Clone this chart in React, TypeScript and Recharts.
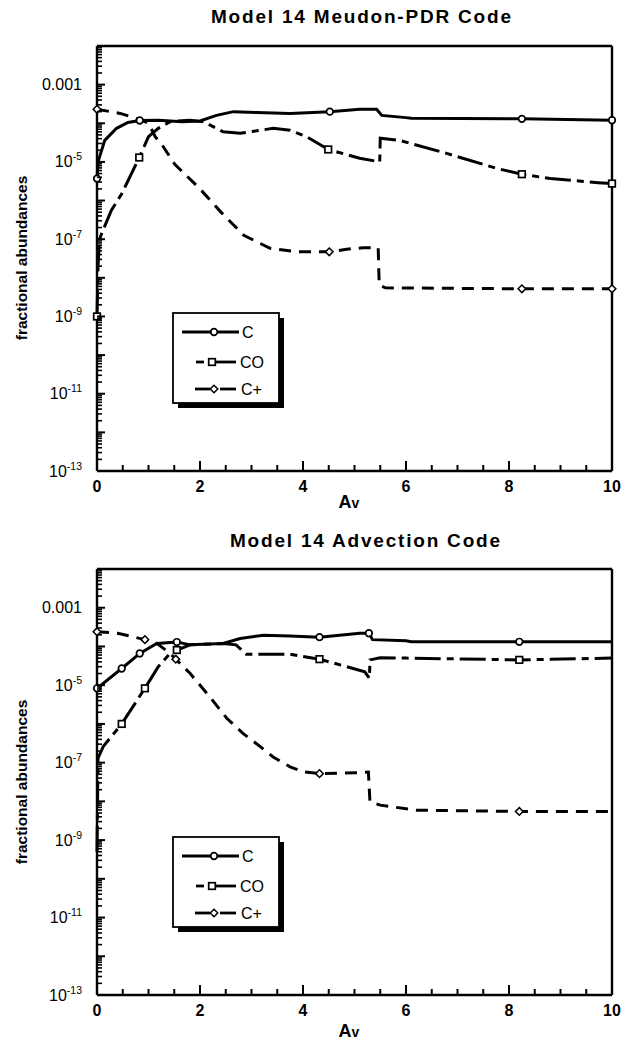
import React from 'react';
import { LineChart, Line, XAxis, YAxis, Legend } from 'recharts';

// ---------- DATA ----------
// Model 14 Meudon-PDR Code  [Av, fractional abundance]
const meudonC: [number, number][] = [
  [0, 3.7e-6], [0.02, 1.0e-5], [0.15, 3.6e-5], [0.38, 7.4e-5], [0.6, 1.05e-4], [0.83, 1.18e-4],
  [1.2, 1.2e-4], [1.65, 1.1e-4], [2.0, 1.15e-4], [2.32, 1.6e-4], [2.65, 2.0e-4], [3.1, 1.9e-4],
  [3.75, 1.8e-4], [4.52, 2.0e-4], [5.1, 2.3e-4], [5.43, 2.3e-4], [5.53, 1.6e-4], [6.0, 1.4e-4],
  [6.1, 1.35e-4], [8.25, 1.3e-4], [10, 1.2e-4],
];
const meudonCO: [number, number][] = [
  [0, 1.0e-9], [0.02, 2e-8], [0.05, 1e-7], [0.09, 1.4e-7], [0.28, 5.6e-7], [0.48, 1.5e-6],
  [0.82, 1.3e-5], [1.0, 4.5e-5], [1.19, 7.4e-5], [1.42, 1.1e-4], [1.8, 1.2e-4], [2.07, 1.1e-4],
  [2.45, 6e-5], [2.78, 5.5e-5], [3.42, 7.4e-5], [3.75, 6.6e-5], [4.07, 4.5e-5], [4.49, 2.1e-5],
  [5.1, 1.25e-5], [5.49, 1.0e-5], [5.5, 4.1e-5], [5.88, 3.6e-5], [6.79, 1.66e-5], [7.76, 6.8e-6],
  [8.25, 4.8e-6], [8.8, 3.7e-6], [9.73, 2.9e-6], [10, 2.75e-6],
];
const meudonCplus: [number, number][] = [
  [0, 2.3e-4], [0.45, 1.8e-4], [0.83, 1.25e-4], [1.0, 1.0e-4], [1.13, 4.5e-5], [1.26, 2.8e-5],
  [1.51, 8.7e-6], [2.0, 2.0e-6], [2.42, 4.8e-7], [2.85, 1.26e-7], [3.36, 5.8e-8], [3.88, 4.7e-8],
  [4.51, 4.7e-8], [4.85, 5.5e-8], [5.17, 6.0e-8], [5.46, 6.0e-8], [5.48, 6.5e-9], [5.6, 5.5e-9],
  [8.25, 5.2e-9], [10, 5.2e-9],
];
const meudonCMarks = [0, 0.83, 4.52, 8.25, 10];
const meudonCOMarks = [0, 0.82, 4.49, 8.25, 10];
const meudonCplusMarks = [0, 4.51, 8.25, 10];

// Model 14 Advection Code  [Av, fractional abundance]
const advC: [number, number][] = [
  [0, 8.3e-6], [0.48, 2.7e-5], [0.83, 6.6e-5], [1.16, 1.2e-4], [1.55, 1.3e-4], [1.81, 1.1e-4],
  [2.45, 1.2e-4], [2.78, 1.6e-4], [3.23, 1.95e-4], [3.75, 1.86e-4], [4.32, 1.74e-4], [5.1, 2.2e-4],
  [5.28, 2.2e-4], [5.35, 1.5e-4], [6.0, 1.4e-4], [6.1, 1.32e-4], [8.2, 1.32e-4], [10, 1.32e-4],
];
const advCO: [number, number][] = [
  [0, 5e-10], [0.02, 1.3e-7], [0.12, 2.6e-7], [0.48, 1.0e-6], [0.93, 8.3e-6], [1.19, 3.0e-5],
  [1.42, 6.6e-5], [1.55, 8.1e-5], [1.81, 1.1e-4], [2.45, 1.2e-4], [2.7, 1.1e-4], [2.9, 6.3e-5],
  [3.75, 6.3e-5], [4.32, 4.7e-5], [4.85, 3.0e-5], [5.2, 2.2e-5], [5.29, 1.5e-5], [5.3, 4.5e-5],
  [5.5, 5.1e-5], [6.0, 5.0e-5], [8.2, 4.5e-5], [10, 5.0e-5],
];
const advCplus: [number, number][] = [
  [0, 2.4e-4], [0.4, 2.2e-4], [0.93, 1.5e-4], [1.16, 1.2e-4], [1.42, 6.6e-5], [1.53, 4.7e-5],
  [1.81, 2.0e-5], [2.19, 5.0e-6], [2.52, 1.4e-6], [2.84, 5.6e-7], [3.17, 2.6e-7], [3.42, 1.4e-7],
  [3.75, 7.8e-8], [4.01, 5.8e-8], [4.32, 5.2e-8], [5.1, 5.5e-8], [5.27, 5.7e-8], [5.3, 9.8e-9],
  [5.5, 8e-9], [6.2, 5.9e-9], [8.2, 5.5e-9], [10, 5.5e-9],
];
const advCMarks = [0, 0.48, 0.83, 1.55, 4.32, 5.28, 8.2];
const advCOMarks = [0.48, 0.93, 1.55, 4.32, 8.2];
const advCplusMarks = [0, 0.93, 1.53, 4.32, 8.2];

const seriesNames = ['C', 'CO', 'C+'];
const panelTitles = ['Model 14 Meudon-PDR Code', 'Model 14 Advection Code'];
const yAxisTitle = 'fractional abundances';

// tick values / labels
const xTicks = [0, 0.5, 1, 1.5, 2, 2.5, 3, 3.5, 4, 4.5, 5, 5.5, 6, 6.5, 7, 7.5, 8, 8.5, 9, 9.5, 10];
const xTickLabels = ['0', '2', '4', '6', '8', '10'];
const yDecadeTicks = [1e-13, 1e-12, 1e-11, 1e-10, 1e-9, 1e-8, 1e-7, 1e-6, 1e-5, 1e-4, 1e-3, 1e-2];
const yMinorMantissas = [2, 3, 4, 5, 6, 7, 8, 9];
const yLabelled: { exp: number; text: string; sup: string }[] = [
  { exp: -13, text: '10', sup: '-13' },
  { exp: -11, text: '10', sup: '-11' },
  { exp: -9, text: '10', sup: '-9' },
  { exp: -7, text: '10', sup: '-7' },
  { exp: -5, text: '10', sup: '-5' },
  { exp: -3, text: '0.001', sup: '' },
];
const Y_DOMAIN: [number, number] = [1e-13, 1e-2];

// ---------- helpers ----------
const FONT = '"Liberation Sans", Arial, Helvetica, sans-serif';
const TITLE_FONT = '"Liberation Sans Narrow", "Liberation Sans", Arial, sans-serif';
const toPts = (a: [number, number][]) => a.map(([x, y]) => ({ x, y }));
const NDEC = Math.log10(Y_DOMAIN[1]) - Math.log10(Y_DOMAIN[0]);

// minor log ticks drawn relative to each decade tick (decade height = plot height / number of decades)
const minorOffsets = (decadePx: number, v: number) =>
  v >= Y_DOMAIN[1] || !decadePx ? [] : yMinorMantissas.map((m) => -Math.log10(m) * decadePx);

const LeftYTick = (props: any) => {
  const { x, y, payload, decadePx } = props;
  const v = payload.value;
  const lab = yLabelled.find((t) => t.exp === Math.round(Math.log10(v)));
  return (
    <g>
      <line x1={x} y1={y} x2={x + 8} y2={y} stroke="#000" strokeWidth={2} />
      {minorOffsets(decadePx, v).map((d, i) => (
        <line key={i} x1={x} y1={y + d} x2={x + 5} y2={y + d} stroke="#000" strokeWidth={1.6} />
      ))}
      {lab && (
        <text x={x - 15} y={y + 5.5} textAnchor="end" fontFamily={FONT} fontSize={16} fill="#000">
          <tspan>{lab.text}</tspan>
          {lab.sup && <tspan dy={-7} fontSize={10.5}>{lab.sup}</tspan>}
        </text>
      )}
    </g>
  );
};

const RightYTick = (props: any) => {
  const { x, y, payload, decadePx } = props;
  return (
    <g>
      <line x1={x} y1={y} x2={x - 8} y2={y} stroke="#000" strokeWidth={2} />
      {minorOffsets(decadePx, payload.value).map((d, i) => (
        <line key={i} x1={x} y1={y + d} x2={x - 5} y2={y + d} stroke="#000" strokeWidth={1.6} />
      ))}
    </g>
  );
};

const BottomXTick = (props: any) => {
  const { x, y, payload } = props;
  const v = payload.value;
  const major = Math.abs(v / 2 - Math.round(v / 2)) < 1e-6;
  const len = major ? 10 : 6;
  const label = major ? xTickLabels[Math.round(v / 2)] : null;
  return (
    <g>
      <line x1={x} y1={y} x2={x} y2={y - len} stroke="#000" strokeWidth={2} />
      {label && (
        <text x={x} y={y + 21} textAnchor="middle" fontFamily={FONT} fontWeight="bold" fontSize={16} fill="#000">
          {label}
        </text>
      )}
    </g>
  );
};

const TopXTick = (props: any) => {
  const { x, y, payload } = props;
  const v = payload.value;
  const major = Math.abs(v / 2 - Math.round(v / 2)) < 1e-6;
  const len = major ? 10 : 6;
  return <line x1={x} y1={y} x2={x} y2={y + len} stroke="#000" strokeWidth={2} />;
};

type Shape = 'circle' | 'square' | 'diamond';
const drawMarker = (shape: Shape, cx: number, cy: number, key?: any) => {
  if (shape === 'circle') return <circle key={key} cx={cx} cy={cy} r={3.3} fill="#fff" stroke="#000" strokeWidth={1.7} />;
  if (shape === 'square') return <rect key={key} x={cx - 3.3} y={cy - 3.3} width={6.6} height={6.6} fill="#fff" stroke="#000" strokeWidth={1.7} />;
  return (
    <polygon key={key} points={`${cx},${cy - 3.8} ${cx + 3.8},${cy} ${cx},${cy + 3.8} ${cx - 3.8},${cy}`} fill="#fff" stroke="#000" strokeWidth={1.5} />
  );
};

const makeDot = (marks: number[], shape: Shape) => (p: any) => {
  const key = `dot-${p.index}`;
  if (p.payload && marks.some((m) => Math.abs(m - p.payload.x) < 1e-9) && p.cx != null && p.cy != null) {
    return <g key={key}>{drawMarker(shape, p.cx, p.cy)}</g>;
  }
  return <g key={key} />;
};

const DASH_CO = '26 6 7 6';
const DASH_CPLUS = '12 8';

const LegendBox = () => (
  <svg width={120} height={102} style={{ overflow: 'visible', display: 'block' }}>
    <rect x={6} y={6} width={106} height={90} fill="#000" />
    <rect x={1} y={1} width={106} height={90} fill="#fff" stroke="#000" strokeWidth={1.8} />
    <line x1={10} y1={20} x2={67} y2={20} stroke="#000" strokeWidth={2.8} />
    {drawMarker('circle', 42, 20)}
    <text x={70} y={25.5} fontFamily={FONT} fontSize={16} fill="#000">{seriesNames[0]}</text>
    <line x1={24} y1={50} x2={32} y2={50} stroke="#000" strokeWidth={2.8} />
    <line x1={44} y1={50} x2={64} y2={50} stroke="#000" strokeWidth={2.8} />
    {drawMarker('square', 40, 50)}
    <text x={68} y={55.5} fontFamily={FONT} fontSize={16} fill="#000">{seriesNames[1]}</text>
    <line x1={23} y1={77} x2={38} y2={77} stroke="#000" strokeWidth={2.8} />
    <line x1={48} y1={77} x2={64} y2={77} stroke="#000" strokeWidth={2.8} />
    {drawMarker('diamond', 42, 77)}
    <text x={69} y={82.5} fontFamily={FONT} fontSize={16} fill="#000">{seriesNames[2]}</text>
  </svg>
);

type PanelProps = {
  height: number;
  margin: { top: number; right: number; bottom: number; left: number };
  c: [number, number][];
  co: [number, number][];
  cp: [number, number][];
  cMarks: number[];
  coMarks: number[];
  cpMarks: number[];
  legendTop: number;
};

const axisLineStyle = { stroke: '#000', strokeWidth: 2.4 };

const Panel = (p: PanelProps) => {
  const plotH = p.height - p.margin.top - p.margin.bottom - 2;
  const decadePx = plotH / NDEC;
  return (
    <LineChart width={623} height={p.height} margin={p.margin}>
      <XAxis
        xAxisId="b" type="number" dataKey="x" domain={[0, 10]} ticks={xTicks} interval={0}
        height={1} tickSize={0} tickMargin={0} tick={<BottomXTick />} axisLine={axisLineStyle} tickLine={false}
      />
      <XAxis
        xAxisId="t" orientation="top" type="number" dataKey="x" domain={[0, 10]} ticks={xTicks} interval={0}
        height={1} tickSize={0} tickMargin={0} tick={<TopXTick />} axisLine={axisLineStyle} tickLine={false}
      />
      <YAxis
        yAxisId="l" type="number" scale="log" domain={Y_DOMAIN} ticks={yDecadeTicks} interval={0}
        width={1} tickSize={0} tickMargin={0} tick={<LeftYTick decadePx={decadePx} />} axisLine={axisLineStyle} tickLine={false}
      />
      <YAxis
        yAxisId="r" orientation="right" type="number" scale="log" domain={Y_DOMAIN} ticks={yDecadeTicks} interval={0}
        width={1} tickSize={0} tickMargin={0} tick={<RightYTick decadePx={decadePx} />} axisLine={axisLineStyle} tickLine={false}
      />
      <Legend
        layout="horizontal"
        verticalAlign="middle"
        align="center"
        content={() => <LegendBox />}
        wrapperStyle={{ position: 'absolute', left: 172, top: p.legendTop, width: 120, height: 102 }}
      />
      <Line
        xAxisId="b" yAxisId="l" name={seriesNames[0]} data={toPts(p.c)} dataKey="y" type="linear"
        stroke="#000" strokeWidth={3} dot={makeDot(p.cMarks, 'circle')} activeDot={false}
        isAnimationActive={false}
      />
      <Line
        xAxisId="b" yAxisId="l" name={seriesNames[1]} data={toPts(p.co)} dataKey="y" type="linear"
        stroke="#000" strokeWidth={3} strokeDasharray={DASH_CO} dot={makeDot(p.coMarks, 'square')}
        activeDot={false} isAnimationActive={false}
      />
      <Line
        xAxisId="b" yAxisId="l" name={seriesNames[2]} data={toPts(p.cp)} dataKey="y" type="linear"
        stroke="#000" strokeWidth={3} strokeDasharray={DASH_CPLUS} dot={makeDot(p.cpMarks, 'diamond')}
        activeDot={false} isAnimationActive={false}
      />
    </LineChart>
  );
};

export default function App() {
  return (
    <div style={{ position: 'absolute', left: 0, top: 0, width: 623, height: 1045, background: '#fff', overflow: 'hidden' }}>
      <div style={{ position: 'absolute', left: 0, top: 0 }}>
        <Panel
          height={522}
          margin={{ top: 45, right: 10, bottom: 50, left: 96 }}
          c={meudonC} co={meudonCO} cp={meudonCplus}
          cMarks={meudonCMarks} coMarks={meudonCOMarks} cpMarks={meudonCplusMarks}
          legendTop={312}
        />
      </div>
      <div style={{ position: 'absolute', left: 0, top: 522 }}>
        <Panel
          height={523}
          margin={{ top: 46, right: 10, bottom: 49, left: 96 }}
          c={advC} co={advCO} cp={advCplus}
          cMarks={advCMarks} coMarks={advCOMarks} cpMarks={advCplusMarks}
          legendTop={314}
        />
      </div>
      <svg width={623} height={1045} style={{ position: 'absolute', left: 0, top: 0, pointerEvents: 'none' }}>
        <text x={361} y={23} textAnchor="middle" fontFamily={TITLE_FONT} fontWeight="bold" fontSize={19}
          textLength={300} lengthAdjust="spacing" fill="#000">{panelTitles[0]}</text>
        <text x={365} y={547} textAnchor="middle" fontFamily={TITLE_FONT} fontWeight="bold" fontSize={19}
          textLength={270} lengthAdjust="spacing" fill="#000">{panelTitles[1]}</text>
        <text transform="translate(27,258) rotate(-90)" textAnchor="middle" fontFamily={FONT}
          fontWeight="bold" fontSize={15.5} fill="#000">{yAxisTitle}</text>
        <text transform="translate(27,782) rotate(-90)" textAnchor="middle" fontFamily={FONT}
          fontWeight="bold" fontSize={15.5} fill="#000">{yAxisTitle}</text>
        <text x={349} y={508} textAnchor="middle" fontFamily={FONT} fontWeight="bold" fontSize={18} fill="#000">
          A<tspan fontSize={14}>v</tspan>
        </text>
        <text x={349} y={1037} textAnchor="middle" fontFamily={FONT} fontWeight="bold" fontSize={18} fill="#000">
          A<tspan fontSize={14}>v</tspan>
        </text>
      </svg>
    </div>
  );
}
